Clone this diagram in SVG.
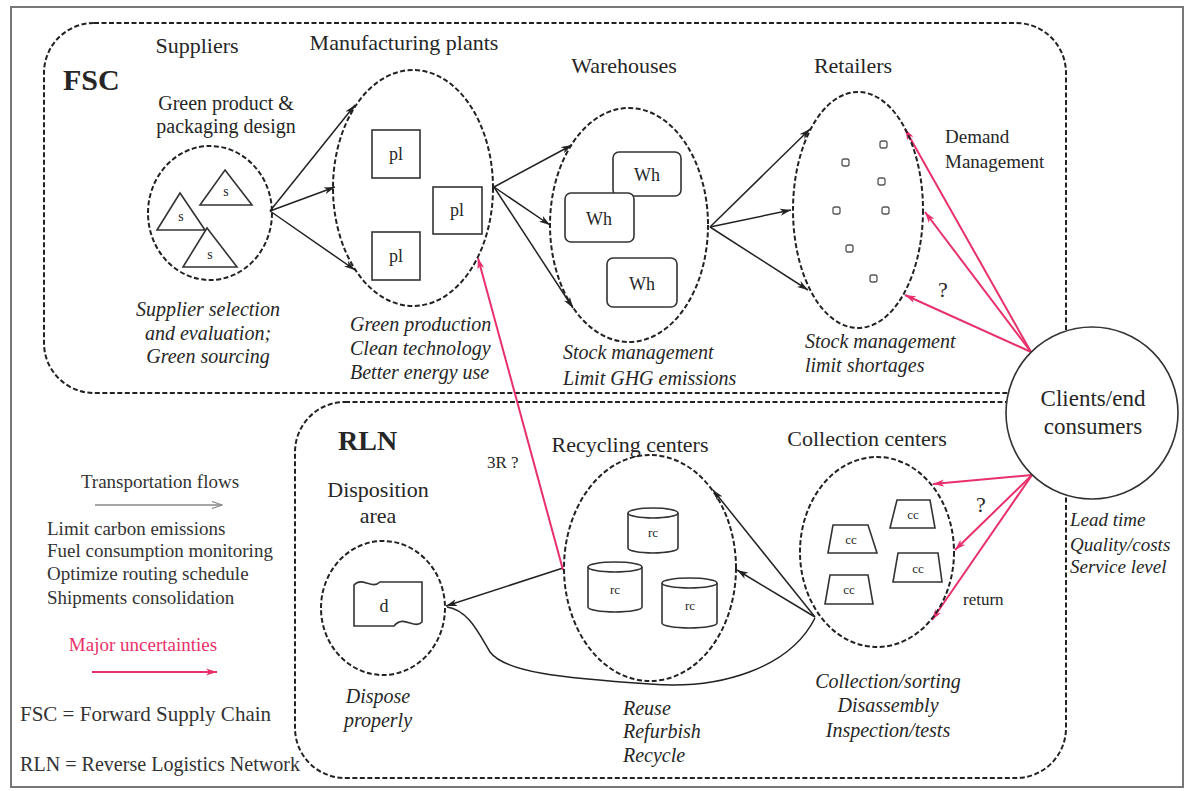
<svg xmlns="http://www.w3.org/2000/svg" width="1190" height="791" viewBox="0 0 1190 791">
<style>
text{font-family:"Liberation Serif","Times New Roman",serif;fill:#262626}
.h{font-size:22px}
.it{font-size:20px;font-style:italic}
.lg{font-size:19px;fill:#333}
.sm{font-size:17px}
.dash{fill:none;stroke:#222;stroke-width:2;stroke-dasharray:5 2.5}
.box{fill:#fff;stroke:#333;stroke-width:1.6}
.k{stroke:#222;stroke-width:1.5;fill:none}
.r{stroke:#e8306a;stroke-width:2;fill:none}
</style>
<defs>
<marker id="ak" markerUnits="userSpaceOnUse" markerWidth="12" markerHeight="8" refX="11" refY="4" orient="auto"><path d="M0,0.5 L11,4 L0,7.5 L3,4 z" fill="#222"/></marker>
<marker id="ar" markerUnits="userSpaceOnUse" markerWidth="12" markerHeight="8" refX="11" refY="4" orient="auto"><path d="M0,0.5 L11,4 L0,7.5 L3,4 z" fill="#e8306a"/></marker>
<marker id="ag" markerUnits="userSpaceOnUse" markerWidth="12" markerHeight="8" refX="11" refY="4" orient="auto"><path d="M1,0.5 L11,4 L1,7.5" fill="none" stroke="#888" stroke-width="1.2"/></marker>
</defs>
<rect x="0" y="0" width="1190" height="791" fill="#fff"/>
<rect x="11" y="7" width="1172" height="780" fill="none" stroke="#777" stroke-width="2"/>

<g id="fsc-box">
<rect class="dash" x="44" y="23" width="1022" height="370" rx="50"/>
<text x="63" y="90" style="font-size:30px;font-weight:bold">FSC</text>
</g>
<g id="rln-box">
<rect class="dash" x="295" y="402" width="771" height="376" rx="50"/>
<text x="338" y="450" style="font-size:28px;font-weight:bold">RLN</text>
</g>

<g id="connectors">
<line class="k" x1="270" y1="211" x2="355" y2="105" marker-end="url(#ak)"/>
<line class="k" x1="270" y1="211" x2="335" y2="187" marker-end="url(#ak)"/>
<line class="k" x1="270" y1="211" x2="355" y2="270" marker-end="url(#ak)"/>
<line class="k" x1="494" y1="187" x2="572" y2="145" marker-end="url(#ak)"/>
<line class="k" x1="494" y1="187" x2="550" y2="225" marker-end="url(#ak)"/>
<line class="k" x1="494" y1="187" x2="573" y2="308" marker-end="url(#ak)"/>
<line class="k" x1="710" y1="227" x2="810" y2="129" marker-end="url(#ak)"/>
<line class="k" x1="710" y1="227" x2="791" y2="210" marker-end="url(#ak)"/>
<line class="k" x1="710" y1="227" x2="808" y2="290" marker-end="url(#ak)"/>
<line class="k" x1="815" y1="617" x2="713" y2="490" marker-end="url(#ak)"/>
<line class="k" x1="815" y1="617" x2="737" y2="570" marker-end="url(#ak)"/>
<line class="k" x1="563" y1="568" x2="446" y2="606" marker-end="url(#ak)"/>
<path class="k" d="M815,618 C790,668 720,690 650,684 C560,678 505,672 490,652 C478,632 468,610 447,607"/>
<line class="r" x1="563" y1="570" x2="478" y2="258" marker-end="url(#ar)"/>
<line class="r" x1="1031" y1="352" x2="905" y2="129" marker-end="url(#ar)"/>
<line class="r" x1="1031" y1="352" x2="925" y2="212" marker-end="url(#ar)"/>
<line class="r" x1="1031" y1="352" x2="905" y2="295" marker-end="url(#ar)"/>
<line class="r" x1="1032" y1="475" x2="933" y2="484" marker-end="url(#ar)"/>
<line class="r" x1="1032" y1="475" x2="955" y2="550" marker-end="url(#ar)"/>
<line class="r" x1="1032" y1="475" x2="932" y2="620" marker-end="url(#ar)"/>
<text x="487" y="468" class="sm">3R ?</text>
<text x="943" y="297" class="h" text-anchor="middle">?</text>
<text x="981" y="512" class="h" text-anchor="middle">?</text>
<text x="963" y="605" class="sm">return</text>
</g>

<g id="suppliers">
<text x="197" y="53" class="h" text-anchor="middle">Suppliers</text>
<text x="226" y="110" style="font-size:20px" text-anchor="middle">Green product &amp;</text>
<text x="226" y="133" style="font-size:20px" text-anchor="middle">packaging design</text>
<ellipse class="dash" cx="210" cy="213" rx="62" ry="67"/>
<path class="box" d="M225,170 L252,205 L200,205 Z"/>
<path class="box" d="M180,193 L205,230 L157,230 Z"/>
<path class="box" d="M207,228 L237,267 L183,267 Z"/>
<text x="226" y="196" style="font-size:14px" text-anchor="middle">s</text>
<text x="181" y="221" style="font-size:14px" text-anchor="middle">s</text>
<text x="210" y="259" style="font-size:14px" text-anchor="middle">s</text>
<text x="208" y="316" class="it" text-anchor="middle">Supplier selection</text>
<text x="208" y="340" class="it" text-anchor="middle">and evaluation;</text>
<text x="208" y="363" class="it" text-anchor="middle">Green sourcing</text>
</g>

<g id="plants">
<text x="404" y="50" class="h" text-anchor="middle">Manufacturing plants</text>
<ellipse class="dash" cx="413" cy="188" rx="80" ry="118"/>
<rect class="box" x="372" y="130" width="48" height="48"/>
<rect class="box" x="433" y="187" width="49" height="47"/>
<rect class="box" x="372" y="232" width="48" height="48"/>
<text x="396" y="160" style="font-size:18px" text-anchor="middle">pl</text>
<text x="457" y="216" style="font-size:18px" text-anchor="middle">pl</text>
<text x="396" y="262" style="font-size:18px" text-anchor="middle">pl</text>
<text x="350" y="331" class="it">Green production</text>
<text x="350" y="355" class="it">Clean technology</text>
<text x="350" y="379" class="it">Better energy use</text>
</g>

<g id="warehouses">
<text x="624" y="73" class="h" text-anchor="middle">Warehouses</text>
<ellipse class="dash" cx="629" cy="225" rx="79" ry="117"/>
<rect class="box" x="613" y="152" width="68" height="44" rx="6"/>
<rect class="box" x="565" y="193" width="69" height="49" rx="6"/>
<rect class="box" x="607" y="258" width="70" height="49" rx="6"/>
<text x="647" y="181" style="font-size:18px" text-anchor="middle">Wh</text>
<text x="599" y="225" style="font-size:18px" text-anchor="middle">Wh</text>
<text x="642" y="290" style="font-size:18px" text-anchor="middle">Wh</text>
<text x="563" y="359" class="it">Stock management</text>
<text x="563" y="385" class="it">Limit GHG emissions</text>
</g>

<g id="retailers">
<text x="853" y="73" class="h" text-anchor="middle">Retailers</text>
<ellipse class="dash" cx="858" cy="210" rx="65" ry="118"/>
<g fill="none" stroke="#555" stroke-width="1.3">
<rect x="880" y="141" width="7" height="7" rx="2"/>
<rect x="842" y="159" width="7" height="7" rx="2"/>
<rect x="878" y="178" width="7" height="7" rx="2"/>
<rect x="833" y="207" width="7" height="7" rx="2"/>
<rect x="882" y="207" width="7" height="7" rx="2"/>
<rect x="846" y="245" width="7" height="7" rx="2"/>
<rect x="870" y="275" width="7" height="7" rx="2"/>
</g>
<text x="945" y="143" style="font-size:19px">Demand</text>
<text x="945" y="168" style="font-size:19px">Management</text>
<text x="805" y="348" class="it">Stock management</text>
<text x="805" y="372" class="it">limit shortages</text>
</g>

<g id="clients">
<circle cx="1092" cy="413" r="86" fill="#fff" stroke="#333" stroke-width="1.6"/>
<text x="1093" y="406" style="font-size:23px" text-anchor="middle">Clients/end</text>
<text x="1093" y="434" style="font-size:23px" text-anchor="middle">consumers</text>
<text x="1070" y="526" style="font-size:19px;font-style:italic">Lead time</text>
<text x="1070" y="551" style="font-size:19px;font-style:italic">Quality/costs</text>
<text x="1070" y="573" style="font-size:19px;font-style:italic">Service level</text>
</g>

<g id="collection">
<text x="867" y="446" class="h" text-anchor="middle">Collection centers</text>
<ellipse class="dash" cx="877" cy="552" rx="77" ry="95"/>
<path class="box" d="M833,525 L868,525 L877,553 L828,553 Z"/>
<path class="box" d="M897,500 L930,500 L935,528 L890,528 Z"/>
<path class="box" d="M898,553 L938,553 L942,582 L893,582 Z"/>
<path class="box" d="M830,575 L868,575 L873,604 L825,604 Z"/>
<text x="851" y="544" style="font-size:13px" text-anchor="middle">cc</text>
<text x="913" y="519" style="font-size:13px" text-anchor="middle">cc</text>
<text x="918" y="573" style="font-size:13px" text-anchor="middle">cc</text>
<text x="849" y="594" style="font-size:13px" text-anchor="middle">cc</text>
<text x="888" y="688" class="it" text-anchor="middle">Collection/sorting</text>
<text x="888" y="712" class="it" text-anchor="middle">Disassembly</text>
<text x="888" y="737" class="it" text-anchor="middle">Inspection/tests</text>
</g>

<g id="recycling">
<text x="630" y="452" class="h" text-anchor="middle">Recycling centers</text>
<ellipse class="dash" cx="650" cy="568" rx="86" ry="113"/>
<path class="box" d="M628,513 L628,548 A25,5 0 0 0 678,548 L678,513"/>
<ellipse class="box" cx="653" cy="513" rx="25" ry="5"/>
<path class="box" d="M588,567 L588,607 A27,5 0 0 0 642,607 L642,567"/>
<ellipse class="box" cx="615" cy="567" rx="27" ry="5"/>
<path class="box" d="M662,583 L662,623 A27.5,5 0 0 0 717,623 L717,583"/>
<ellipse class="box" cx="689.5" cy="583" rx="27.5" ry="5"/>
<text x="653" y="537" style="font-size:13px" text-anchor="middle">rc</text>
<text x="615" y="594" style="font-size:13px" text-anchor="middle">rc</text>
<text x="690" y="610" style="font-size:13px" text-anchor="middle">rc</text>
<text x="623" y="715" class="it">Reuse</text>
<text x="623" y="738" class="it">Refurbish</text>
<text x="623" y="762" class="it">Recycle</text>
</g>

<g id="disposition">
<text x="378" y="497" class="h" text-anchor="middle">Disposition</text>
<text x="378" y="523" class="h" text-anchor="middle">area</text>
<ellipse class="dash" cx="383" cy="608" rx="62" ry="67"/>
<path class="box" d="M354,585 C362,576 372,590 380,582 L422,582 L422,622 C414,630 404,614 394,626 L354,626 Z"/>
<text x="384" y="612" style="font-size:18px" text-anchor="middle">d</text>
<text x="378" y="703" class="it" text-anchor="middle">Dispose</text>
<text x="378" y="727" class="it" text-anchor="middle">properly</text>
</g>

<g id="legend">
<text x="160" y="488" class="lg" text-anchor="middle">Transportation flows</text>
<line x1="95" y1="505" x2="222" y2="505" stroke="#888" stroke-width="1.3" marker-end="url(#ag)"/>
<text x="47" y="535" class="lg">Limit carbon emissions</text>
<text x="47" y="557" class="lg">Fuel consumption monitoring</text>
<text x="47" y="580" class="lg">Optimize routing schedule</text>
<text x="47" y="604" class="lg">Shipments consolidation</text>
<text x="143" y="651" class="lg" text-anchor="middle" style="fill:#e8306a">Major uncertainties</text>
<line x1="92" y1="672" x2="217" y2="672" class="r" marker-end="url(#ar)"/>
<text x="20" y="721" style="font-size:21px;fill:#333">FSC = Forward Supply Chain</text>
<text x="20" y="771" style="font-size:20px;fill:#333" textLength="280" lengthAdjust="spacingAndGlyphs">RLN = Reverse Logistics Network</text>
</g>
</svg>
